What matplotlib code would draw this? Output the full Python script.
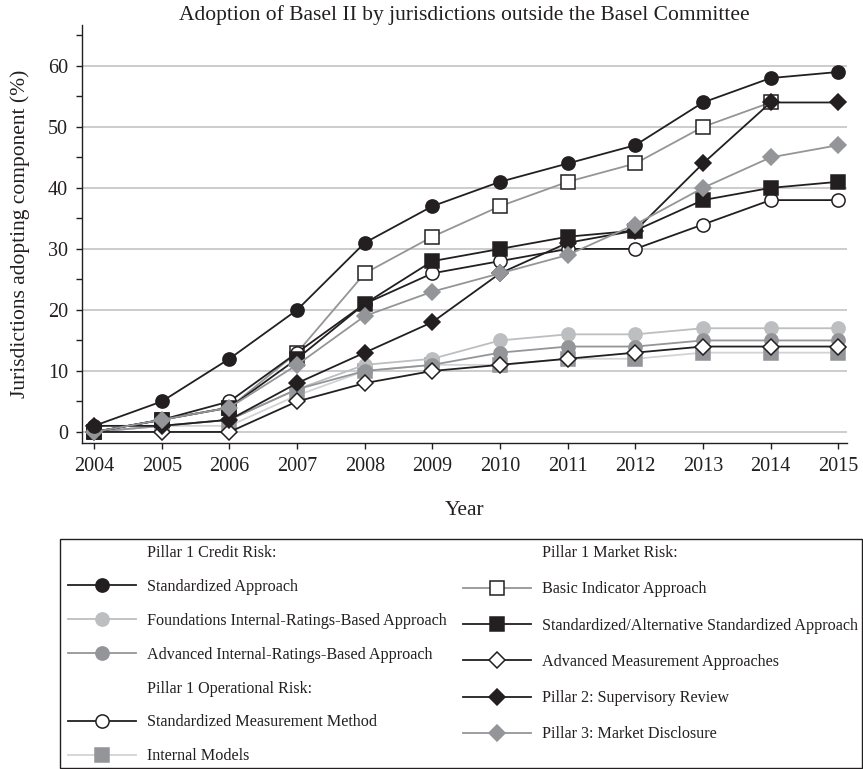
import numpy as np
import matplotlib
matplotlib.use("Agg")
import matplotlib.pyplot as plt
from matplotlib.lines import Line2D
from matplotlib.patches import Rectangle
from matplotlib.ticker import MultipleLocator

plt.rcParams["font.family"] = ["Liberation Serif", "DejaVu Serif"]

years = list(range(2004, 2016))

# Pillar 1 credit risk
credit_sa = [1, 5, 12, 20, 31, 37, 41, 44, 47, 54, 58, 59]
credit_firb = [0, 1, 2, 7, 11, 12, 15, 16, 16, 17, 17, 17]
credit_airb = [0, 1, 2, 7, 10, 11, 13, 14, 14, 15, 15, 15]
# Pillar 1 operational risk (as labelled in the source)
op_smm = [0, 2, 5, 13, 21, 26, 28, 30, 30, 34, 38, 38]
op_im = [0, 1, 1, 6, 10, 11, 11, 12, 12, 13, 13, 13]
# Pillar 1 market risk (as labelled in the source)
mkt_bia = [0, 2, 4, 13, 26, 32, 37, 41, 44, 50, 54, np.nan]
mkt_sasa = [0, 2, 4, 12, 21, 28, 30, 32, 33, 38, 40, 41]
mkt_ama = [0, 0, 0, 5, 8, 10, 11, 12, 13, 14, 14, 14]
# Pillars 2 and 3
pillar2 = [1, 1, 2, 8, 13, 18, 26, 31, 33, 44, 54, 54]
pillar3 = [0, 2, 4, 11, 19, 23, 26, 29, 34, 40, 45, 47]

BLACK = "#231f20"
GRAY = "#939598"
LIGHT = "#bcbec0"
LIGHTER = "#d1d3d4"
WHITE = "white"

# label, data, line colour, marker, face, edge, size
series = [
    ("Internal Models", op_im, LIGHTER, "s", GRAY, GRAY, 9.5),
    ("Foundations Internal-Ratings-Based Approach", credit_firb, LIGHT, "o", LIGHT, LIGHT, 9.5),
    ("Advanced Internal-Ratings-Based Approach", credit_airb, GRAY, "o", GRAY, GRAY, 9.5),
    ("Advanced Measurement Approaches", mkt_ama, BLACK, "D", WHITE, BLACK, 8.5),
    ("Basic Indicator Approach", mkt_bia, GRAY, "s", WHITE, BLACK, 9.5),
    ("Standardized Measurement Method", op_smm, BLACK, "o", WHITE, BLACK, 9.5),
    ("Standardized/Alternative Standardized Approach", mkt_sasa, BLACK, "s", BLACK, BLACK, 9.5),
    ("Pillar 2: Supervisory Review", pillar2, BLACK, "D", BLACK, BLACK, 8.5),
    ("Pillar 3: Market Disclosure", pillar3, GRAY, "D", GRAY, GRAY, 8.5),
    ("Standardized Approach", credit_sa, BLACK, "o", BLACK, BLACK, 9.5),
]

fig = plt.figure(figsize=(8.63, 7.69), dpi=100)
ax = fig.add_axes([0.095, 0.424, 0.8865, 0.5435])

handles = {}
for label, vals, lc, mk, fc, ec, ms in series:
    (ln,) = ax.plot(years, vals, color=lc, lw=1.3, marker=mk, markersize=ms,
                    markerfacecolor=fc, markeredgecolor=ec, markeredgewidth=1.1,
                    label=label, zorder=3)
    handles[label] = ln

ax.set_xlim(2003.82, 2015.13)
ax.set_ylim(-1.8, 66.7)
ax.set_xticks(years)
ax.yaxis.set_major_locator(MultipleLocator(10))
ax.yaxis.set_minor_locator(MultipleLocator(5))
ax.set_yticks(range(0, 61, 10))
ax.grid(axis="y", which="major", color="#c8c8c8", lw=1.3, zorder=0)
for s in ("top", "right"):
    ax.spines[s].set_visible(False)
for s in ("left", "bottom"):
    ax.spines[s].set_color(BLACK)
    ax.spines[s].set_linewidth(1.0)
ax.tick_params(axis="both", which="both", colors=BLACK, labelsize=14.5,
               length=4, width=1.0)
ax.tick_params(axis="y", which="both", pad=6)
ax.tick_params(axis="x", pad=6)

ax.set_title("Adoption of Basel II by jurisdictions outside the Basel Committee",
             fontsize=15.5, color=BLACK, pad=3)
ax.set_xlabel("Year", fontsize=15.5, color=BLACK, labelpad=18)
ax.set_ylabel("Jurisdictions adopting component (%)", fontsize=15.5, color=BLACK,
              labelpad=13)

blank = Line2D([], [], linestyle="none")

left_items = [
    (blank, "Pillar 1 Credit Risk:"),
    (handles["Standardized Approach"], "Standardized Approach"),
    (handles["Foundations Internal-Ratings-Based Approach"], "Foundations Internal-Ratings-Based Approach"),
    (handles["Advanced Internal-Ratings-Based Approach"], "Advanced Internal-Ratings-Based Approach"),
    (blank, "Pillar 1 Operational Risk:"),
    (handles["Standardized Measurement Method"], "Standardized Measurement Method"),
    (handles["Internal Models"], "Internal Models"),
]
right_items = [
    (blank, "Pillar 1 Market Risk:"),
    (handles["Basic Indicator Approach"], "Basic Indicator Approach"),
    (handles["Standardized/Alternative Standardized Approach"], "Standardized/Alternative Standardized Approach"),
    (handles["Advanced Measurement Approaches"], "Advanced Measurement Approaches"),
    (handles["Pillar 2: Supervisory Review"], "Pillar 2: Supervisory Review"),
    (handles["Pillar 3: Market Disclosure"], "Pillar 3: Market Disclosure"),
]

common = dict(frameon=False, fontsize=11.6, handlelength=4.2, handletextpad=0.7,
              borderpad=0, borderaxespad=0, loc="upper left",
              bbox_transform=fig.transFigure)
leg1 = fig.legend([h for h, _ in left_items], [t for _, t in left_items],
                  bbox_to_anchor=(68 / 863, 1 - 545 / 769), labelspacing=1.11, **common)
leg2 = fig.legend([h for h, _ in right_items], [t for _, t in right_items],
                  bbox_to_anchor=(463 / 863, 1 - 545 / 769), labelspacing=1.26, **common)
for leg in (leg1, leg2):
    for t in leg.get_texts():
        t.set_color(BLACK)

fig.add_artist(Rectangle((60 / 863, 1 - 768 / 769), 802 / 863, 229 / 769,
                         transform=fig.transFigure, fill=False,
                         edgecolor=BLACK, lw=1.0))

fig.savefig("out.png", dpi=100)
